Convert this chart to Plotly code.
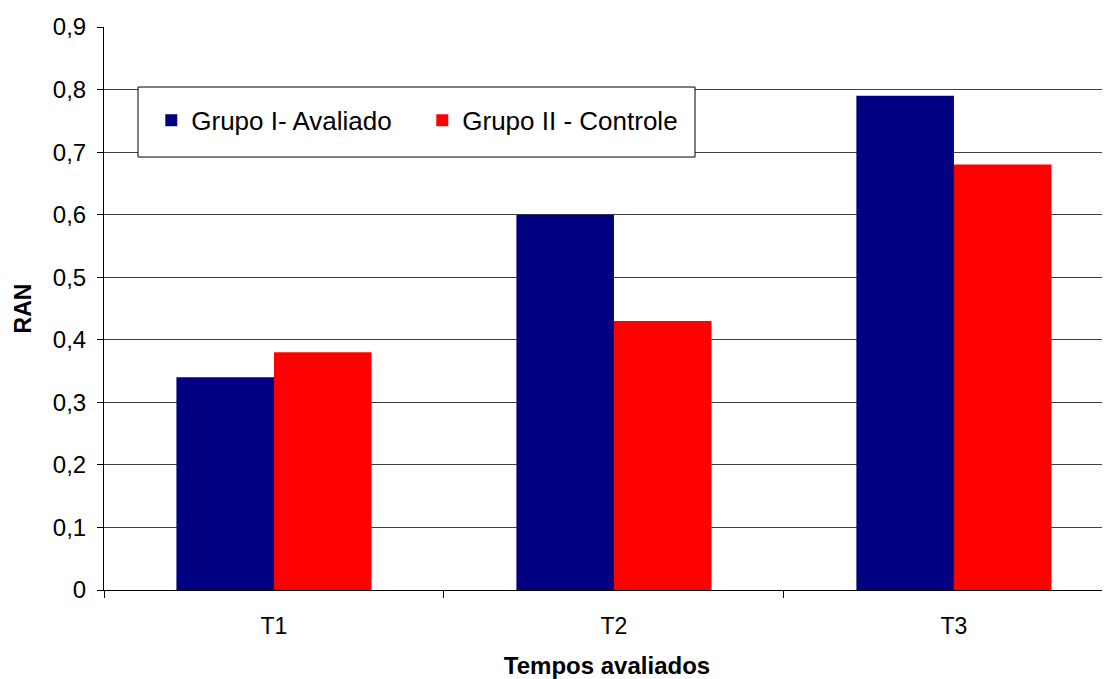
import plotly.graph_objects as go

categories = ["T1", "T2", "T3"]
grupo1 = [0.34, 0.60, 0.79]
grupo2 = [0.38, 0.43, 0.68]

fig = go.Figure()
fig.add_trace(go.Bar(x=categories, y=grupo1, name="Grupo I- Avaliado",
                     marker=dict(color="#000080", line=dict(width=0))))
fig.add_trace(go.Bar(x=categories, y=grupo2, name="Grupo II - Controle",
                     marker=dict(color="#FF0000", line=dict(width=0))))

# legend frame
fig.add_shape(type="rect", xref="paper", yref="paper",
              x0=0.0338, x1=0.5875, y0=0.769, y1=0.8934,
              line=dict(color="black", width=1), fillcolor="white", layer="above")

fig.update_layout(
    width=1102, height=671,
    margin=dict(l=96, r=0, t=19, b=89),
    paper_bgcolor="white", plot_bgcolor="white",
    barmode="group", bargap=0.426, bargroupgap=0,
    separators=",.",
    font=dict(family="Liberation Sans, Arial, sans-serif", size=23, color="black"),
    showlegend=True,
    legend=dict(orientation="h", x=0.047, y=0.834, xanchor="left", yanchor="middle",
                borderwidth=0, bgcolor="rgba(0,0,0,0)",
                font=dict(size=26), entrywidth=226),
    xaxis=dict(range=[-0.5, 2.459], showline=True, linecolor="black", linewidth=1,
               ticks="outside", tickson="boundaries", ticklen=7, tickcolor="black",
               showgrid=False, tickfont=dict(size=23), ticklabelstandoff=15,
               title=dict(text="<b>Tempos avaliados</b>", font=dict(size=24), standoff=19)),
    yaxis=dict(range=[0, 0.9], dtick=0.1, showline=True, linecolor="black", linewidth=1,
               ticks="outside", ticklen=6, tickcolor="black", ticklabelstandoff=6,
               showgrid=True, gridcolor="#404040", gridwidth=1, zeroline=False,
               tickfont=dict(size=24),
               title=dict(text="<b>RAN</b>", font=dict(size=23), standoff=14)),
)

fig.write_html("out.html")
